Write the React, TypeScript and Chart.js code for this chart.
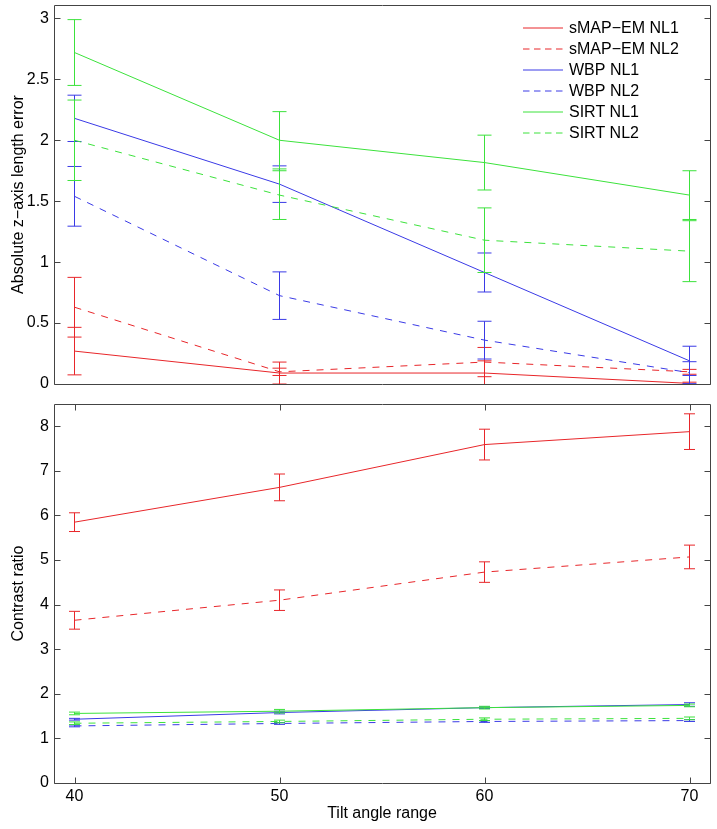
import React, { useEffect, useRef } from "react";
import { Chart, registerables } from "chart.js";

Chart.register(...registerables);

// ---------- data ----------
const tiltAngles = [40, 50, 60, 70];
const seriesNames = ["sMAP\u2212EM NL1", "sMAP\u2212EM NL2", "WBP NL1", "WBP NL2", "SIRT NL1", "SIRT NL2"];

// top panel: absolute z-axis length error (mean, error)
const zSmapNL1 = [0.27, 0.09, 0.09, 0.005];
const zSmapNL2 = [0.63, 0.1, 0.18, 0.1];
const zWbpNL1 = [2.18, 1.64, 0.915, 0.19];
const zWbpNL2 = [1.54, 0.725, 0.36, 0.093];
const zSirtNL1 = [2.72, 2.0, 1.817, 1.55];
const zSirtNL2 = [2.0, 1.55, 1.18, 1.09];

const zSmapNL1Err = [0.195, 0.09, 0.1, 0.01];
const zSmapNL2Err = [0.245, 0.03, 0.12, 0.02];
const zWbpNL1Err = [0.19, 0.15, 0.16, 0.12];
const zWbpNL2Err = [0.245, 0.195, 0.155, 0.09];
const zSirtNL1Err = [0.27, 0.235, 0.225, 0.2];
const zSirtNL2Err = [0.33, 0.2, 0.265, 0.25];

// bottom panel: contrast ratio (mean, error)
const cSmapNL1 = [5.85, 6.63, 7.59, 7.88];
const cSmapNL2 = [3.65, 4.1, 4.73, 5.07];
const cWbpNL1 = [1.43, 1.58, 1.69, 1.76];
const cWbpNL2 = [1.28, 1.335, 1.38, 1.4];
const cSirtNL1 = [1.56, 1.61, 1.69, 1.74];
const cSirtNL2 = [1.34, 1.38, 1.43, 1.45];

const cSmapNL1Err = [0.21, 0.3, 0.345, 0.4];
const cSmapNL2Err = [0.2, 0.23, 0.23, 0.265];
const cWbpNL1Err = [0.02, 0.03, 0.02, 0.04];
const cWbpNL2Err = [0.02, 0.02, 0.02, 0.02];
const cSirtNL1Err = [0.03, 0.04, 0.03, 0.03];
const cSirtNL2Err = [0.03, 0.03, 0.03, 0.03];

const zTicks = [0, 0.5, 1, 1.5, 2, 2.5, 3];
const cTicks = [0, 1, 2, 3, 4, 5, 6, 7, 8];

// ---------- styles ----------
const FONT = "'Liberation Sans', Arial, Helvetica, sans-serif";
const RED = "#e8262a";
const BLUE = "#3a3ae6";
const GREEN = "#3ce23c";
const seriesColors = [RED, RED, BLUE, BLUE, GREEN, GREEN];
const seriesDashed = [false, true, false, true, false, true];
const DASH = [7, 7];

const errorBarPlugin = {
  id: "errorBars",
  afterDatasetDraw(chart: any, args: any, opts: any) {
    const errs = opts.errors && opts.errors[args.index];
    if (!errs) return;
    const ds = chart.data.datasets[args.index];
    const xs = chart.scales.x;
    const ys = chart.scales.y;
    const ctx = chart.ctx;
    const ca = chart.chartArea;
    ctx.save();
    ctx.beginPath();
    ctx.rect(ca.left, ca.top, ca.right - ca.left, ca.bottom - ca.top);
    ctx.clip();
    ctx.strokeStyle = seriesColors[args.index];
    ctx.lineWidth = 1;
    ctx.setLineDash([]);
    ds.data.forEach((p: any, j: number) => {
      const e = errs[j];
      const x = xs.getPixelForValue(p.x);
      const yt = ys.getPixelForValue(p.y + e);
      const yb = ys.getPixelForValue(p.y - e);
      ctx.beginPath();
      ctx.moveTo(x, yt);
      ctx.lineTo(x, yb);
      ctx.moveTo(x - opts.cap, yt);
      ctx.lineTo(x + opts.cap, yt);
      ctx.moveTo(x - opts.cap, yb);
      ctx.lineTo(x + opts.cap, yb);
      ctx.stroke();
    });
    ctx.restore();
  },
};

const framePlugin = {
  id: "frame",
  afterDraw(chart: any, _args: any, opts: any) {
    const ctx = chart.ctx;
    const ca = chart.chartArea;
    const len = opts.tickLen || 6;
    ctx.save();
    ctx.strokeStyle = opts.color || "#444";
    ctx.lineWidth = 1;
    ctx.setLineDash([]);
    const L = Math.round(ca.left) + 0.5;
    const R = Math.round(ca.right) + 0.5;
    const T = Math.round(ca.top) + 0.5;
    const B = Math.round(ca.bottom) + 0.5;
    ctx.beginPath();
    ctx.rect(L, T, R - L, B - T);
    ctx.stroke();
    ctx.beginPath();
    chart.scales.y.ticks.forEach((t: any) => {
      const y = Math.round(chart.scales.y.getPixelForValue(t.value)) + 0.5;
      ctx.moveTo(L, y);
      ctx.lineTo(L + len, y);
      ctx.moveTo(R, y);
      ctx.lineTo(R - len, y);
    });
    if (opts.xTicks) {
      chart.scales.x.ticks.forEach((t: any) => {
        const x = Math.round(chart.scales.x.getPixelForValue(t.value)) + 0.5;
        ctx.moveTo(x, B);
        ctx.lineTo(x, B - len);
        ctx.moveTo(x, T);
        ctx.lineTo(x, T + len);
      });
    }
    ctx.stroke();
    ctx.restore();
  },
};

const legendPlugin = {
  id: "insideLegend",
  afterDraw(chart: any, _args: any, opts: any) {
    if (!opts || !opts.show) return;
    const ctx = chart.ctx;
    ctx.save();
    chart.data.datasets.forEach((ds: any, i: number) => {
      const y = opts.y0 + i * opts.dy;
      ctx.strokeStyle = seriesColors[i];
      ctx.lineWidth = 1;
      ctx.setLineDash(seriesDashed[i] ? [6.5, 4.5] : []);
      ctx.beginPath();
      ctx.moveTo(opts.x0, y);
      ctx.lineTo(opts.x0 + opts.lineLen, y);
      ctx.stroke();
      ctx.setLineDash([]);
      ctx.fillStyle = "#000";
      ctx.font = `16px ${FONT}`;
      ctx.textAlign = "left";
      ctx.textBaseline = "middle";
      ctx.fillText(ds.label, opts.textX, y + 1);
    });
    ctx.restore();
  },
};

function makeDatasets(means: number[][]) {
  return means.map((m, i) => ({
    label: seriesNames[i],
    data: tiltAngles.map((x, j) => ({ x, y: m[j] })),
    borderColor: seriesColors[i],
    backgroundColor: seriesColors[i],
    borderWidth: 1,
    borderDash: seriesDashed[i] ? DASH : [],
    pointRadius: 0,
    tension: 0,
    order: means.length - i,
  }));
}

const tickFont = { family: FONT, size: 16 };

function zeroPadding(s: any) {
  s.paddingTop = 0;
  s.paddingBottom = 0;
  s.paddingLeft = 0;
  s.paddingRight = 0;
}

function xScale(showLabels: boolean) {
  return {
    type: "linear" as const,
    min: 39,
    max: 71,
    display: showLabels,
    afterBuildTicks: (s: any) => {
      s.ticks = tiltAngles.map((v) => ({ value: v }));
    },
    afterFit: (s: any) => {
      if (showLabels) s.height = 46;
      zeroPadding(s);
    },
    grid: { display: false, drawTicks: false },
    border: { display: false },
    ticks: { color: "#000", font: tickFont, padding: 4, maxRotation: 0, autoSkip: false, callback: (v: any) => String(v) },
    title: {
      display: showLabels,
      text: "Tilt angle range",
      color: "#000",
      font: tickFont,
      padding: { top: 0, bottom: 5.4 },
    },
  };
}

function yScale(max: number, ticks: number[], title: string) {
  return {
    type: "linear" as const,
    min: 0,
    max,
    afterBuildTicks: (s: any) => {
      s.ticks = ticks.map((v) => ({ value: v }));
    },
    afterFit: (s: any) => {
      s.width = 54;
      zeroPadding(s);
    },
    grid: { display: false, drawTicks: false },
    border: { display: false },
    ticks: { color: "#000", font: tickFont, padding: 5, callback: (v: any) => String(v) },
    title: {
      display: true,
      text: title,
      color: "#000",
      font: tickFont,
      padding: { top: 9, bottom: 0 },
    },
  };
}

export default function App() {
  const topRef = useRef<HTMLCanvasElement>(null);
  const botRef = useRef<HTMLCanvasElement>(null);

  useEffect(() => {
    const topChart = new Chart(topRef.current as HTMLCanvasElement, {
      type: "line",
      data: {
        datasets: makeDatasets([zSmapNL1, zSmapNL2, zWbpNL1, zWbpNL2, zSirtNL1, zSirtNL2]) as any,
      },
      options: {
        responsive: false,
        animation: false,
        layout: { padding: { left: 0, right: 7, top: 5, bottom: 10 } },
        scales: {
          x: xScale(false) as any,
          y: yScale(3.11, zTicks, "Absolute z\u2212axis length error") as any,
        },
        plugins: {
          legend: { display: false },
          tooltip: { enabled: false },
          errorBars: {
            cap: 7,
            errors: [zSmapNL1Err, zSmapNL2Err, zWbpNL1Err, zWbpNL2Err, zSirtNL1Err, zSirtNL2Err],
          },
          frame: { xTicks: false, tickLen: 6, color: "#444" },
          insideLegend: { show: true, x0: 523, lineLen: 40, textX: 569, y0: 28, dy: 21 },
        } as any,
      },
      plugins: [errorBarPlugin, framePlugin, legendPlugin],
    });

    const botChart = new Chart(botRef.current as HTMLCanvasElement, {
      type: "line",
      data: {
        datasets: makeDatasets([cSmapNL1, cSmapNL2, cWbpNL1, cWbpNL2, cSirtNL1, cSirtNL2]) as any,
      },
      options: {
        responsive: false,
        animation: false,
        layout: { padding: { left: 0, right: 7, top: 10, bottom: 0 } },
        scales: {
          x: xScale(true) as any,
          y: yScale(8.5, cTicks, "Contrast ratio") as any,
        },
        plugins: {
          legend: { display: false },
          tooltip: { enabled: false },
          errorBars: {
            cap: 5.5,
            errors: [cSmapNL1Err, cSmapNL2Err, cWbpNL1Err, cWbpNL2Err, cSirtNL1Err, cSirtNL2Err],
          },
          frame: { xTicks: true, tickLen: 6, color: "#444" },
          insideLegend: { show: false },
        } as any,
      },
      plugins: [errorBarPlugin, framePlugin, legendPlugin],
    });

    return () => {
      topChart.destroy();
      botChart.destroy();
    };
  }, []);

  return (
    <div style={{ position: "absolute", left: 0, top: 0, width: 717, height: 829, background: "#fff" }}>
      <canvas
        ref={topRef}
        width={717}
        height={394}
        style={{ position: "absolute", left: 0, top: 0, width: 717, height: 394 }}
      />
      <canvas
        ref={botRef}
        width={717}
        height={435}
        style={{ position: "absolute", left: 0, top: 394, width: 717, height: 435 }}
      />
    </div>
  );
}
